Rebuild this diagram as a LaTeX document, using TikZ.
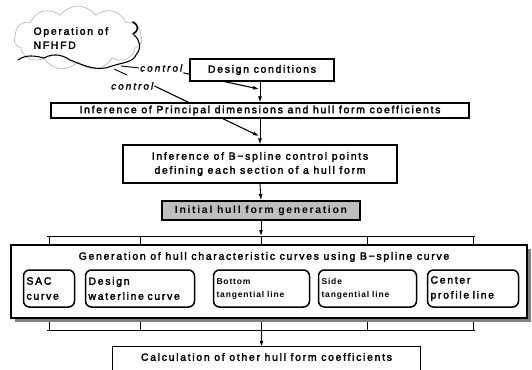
\documentclass[tikz,border=0pt]{standalone}
\usepackage{fontspec}
\newfontfamily\df{Liberation Sans}[LetterSpace=16,FakeBold=2.5]
\newfontfamily\dfb{Liberation Sans Bold}[LetterSpace=10]
\newfontfamily\dfbw{Liberation Sans Bold}[LetterSpace=16]
\newfontfamily\dfi{Liberation Sans Italic}[LetterSpace=20,FakeBold=1.5]
\usetikzlibrary{shapes.symbols,arrows.meta,backgrounds,shadows}
\begin{document}
\begin{tikzpicture}[x=1pt,y=-1pt,
  txt/.style={font=\df\fontsize{10.5}{14}\selectfont},
  box/.style={draw,line width=1.2pt,fill=white,inner sep=0pt,txt},
  rbox/.style={draw,line width=1.5pt,rounded corners=6pt,fill=white,inner sep=3pt,
     minimum height=37pt,align=left,font=\df\fontsize{10.5}{15}\selectfont},
  sbox/.style={rbox,font=\dfb\fontsize{8.5}{13}\selectfont},
  arr/.style={-{Latex[length=6pt,width=4pt]},line width=0.9pt},
  ln/.style={line width=0.9pt},
  ctl/.style={font=\dfi\fontsize{10}{11}\selectfont,inner sep=1pt}
  ]
\useasboundingbox (0,0) rectangle (532,369);
\clip (0,0) rectangle (532,369);

% cloud
\node[cloud,draw=black!30,line width=0.6pt,cloud puffs=11,cloud puff arc=110,aspect=2,
      minimum width=128pt,minimum height=64pt,inner sep=0pt] (cloud) at (78,38) {};
\draw[line width=1.1pt,line cap=round] (18,60) .. controls (26,54) and (36,56) .. (44,58)
   .. controls (55,52) and (64,56) .. (70,60)
   .. controls (85,66) and (98,72) .. (112,66) .. controls (125,62) and (133,62) .. (136,55)
   .. controls (142,48) and (140,40) .. (134,35);
\draw[line width=1.6pt,line cap=round] (133,22) .. controls (139,25) and (139,31) .. (133,34);
\node[txt,align=left,anchor=west] (optext) at (30,38) {Operation of\\NFHFD};

% main flow boxes
\node[box,minimum width=144pt,minimum height=22pt] (design) at (262,70) {Design conditions};
\node[box,minimum width=418pt,minimum height=15pt] (principal) at (260,110.5)
  {Inference of Principal dimensions and hull form coefficients};
\node[box,minimum width=274pt,minimum height=38pt,align=center] (bspline) at (260,164)
  {Inference of B−spline control points\\defining each section of a hull form};
\node[box,line width=1.8pt,fill=black!25,minimum width=198pt,minimum height=19pt,
      font=\dfbw\fontsize{10.5}{12}\selectfont] (init) at (261,210.5)
  {Initial hull form generation};

% big box
\node[draw,line width=1.2pt,fill=white,minimum width=516pt,minimum height=73pt,
      drop shadow={shadow xshift=4pt,shadow yshift=-4pt,fill=black!50,opacity=1}] (big) at (269,281.5) {};
\node[txt,fill=white,inner sep=1pt] (gen) at (264,257)
  {Generation of hull characteristic curves using B−spline curve};

\node[rbox,text width=45pt] (sac) at (49,288.5) {SAC\\curve};
\node[rbox,text width=103pt] (dwl) at (140,288.5) {Design\\waterline curve};
\node[sbox,text width=90pt] (bot) at (261.5,288.5) {Bottom\\tangential line};
\node[sbox,text width=92pt] (side) at (367.5,288.5) {Side\\tangential line};
\node[rbox,text width=85pt] (cpl) at (473,288.5) {Center\\profile line};

% calculation box (cut off by the picture edge)
\node[txt,minimum width=307pt,minimum height=20pt,inner sep=0pt] (calc) at (266.5,357)
  {Calculation of other hull form coefficients};
\coordinate (calcbot) at (0,380);
\draw[line width=1.2pt] (calc.south west |- calcbot) -- (calc.north west) -- (calc.north east) -- (calc.south east |- calcbot);

% control labels
\node[ctl,anchor=west] (ctl1) at (139,68) {control};
\node[ctl,anchor=west] (ctl2) at (110,86) {control};

% bracket coordinates
\coordinate (tl) at (47,236);
\coordinate (tr) at (475,236);
\coordinate (bl) at (47,330);
\coordinate (br) at (475,330);
\coordinate (tip1) at (259,89);
\coordinate (tip2) at (259,136);
\coordinate (c1) at (121,66);
\coordinate (c2) at (114,69);
\coordinate (c2e) at (127,75);

\begin{scope}[on background layer]
  \draw[ln] (c1) -- (ctl1.west);
  \draw[arr,line width=1.1pt] (ctl1.south east) -- (tip1);
  \draw[ln] (c2) -- (c2e);
  \draw[arr,line width=1.1pt] (ctl2.east) -- (tip2);
  \draw[ln] (tl) -- (tr);
  \draw[ln] (bl) -- (br);
  \foreach \b in {sac,dwl,bot,side,cpl}{
    \draw[ln] (\b.north) -- (\b.north |- tl);
    \draw[ln] (\b.south) -- (\b.south |- bl);
  }
\end{scope}

% flow arrows
\draw[arr] (design.south -| principal.north) -- (principal.north);
\draw[arr] (principal.south) -- (bspline.north);
\draw[arr] (bspline.south) -- (init.north);
\draw[arr] (init.south) -- (init.south |- tl);
\draw[arr] (bot.south |- bl) -- (bot.south |- calc.north);
\end{tikzpicture}
\end{document}
